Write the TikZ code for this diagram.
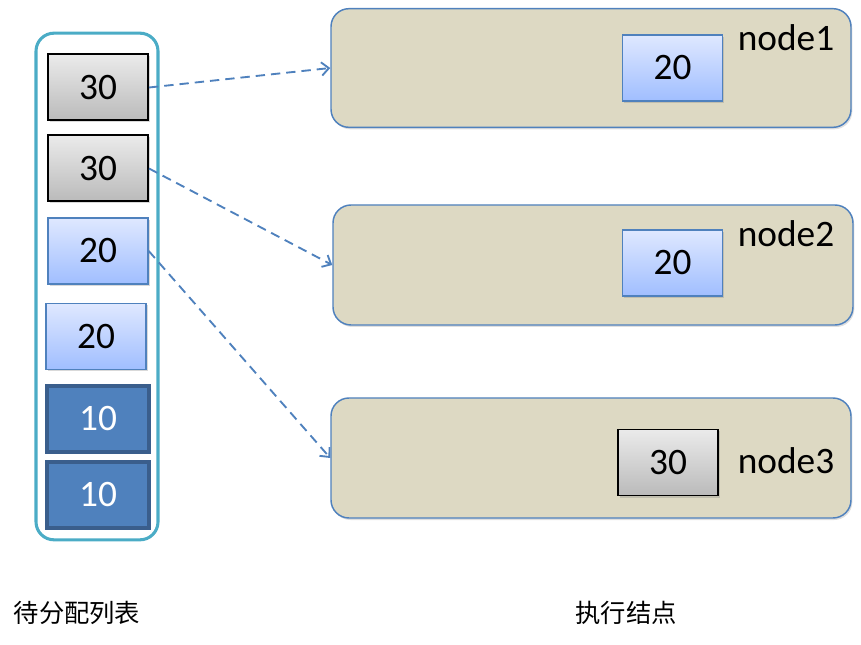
\documentclass[tikz,border=0pt]{standalone}
\usepackage{fontspec}
\setmainfont{Carlito}
\newfontfamily\cjk{Noto Sans CJK SC}
\usetikzlibrary{arrows.meta, shadows}
\definecolor{listcyan}{HTML}{4BACC6}
\definecolor{accent}{HTML}{4F81BD}
\definecolor{accentdark}{HTML}{3A5E8C}
\definecolor{khaki}{HTML}{DDD9C3}

\begin{document}
\begin{tikzpicture}[
  x=0.75pt, y=-0.75pt,
  task/.style={minimum width=75pt, minimum height=49.5pt, inner sep=0pt,
    font=\fontsize{28}{32}\selectfont,
    drop shadow={shadow xshift=1.2pt, shadow yshift=-1.5pt, opacity=0.3}},
  graytask/.style={task, draw=black, line width=1.5pt, top color=black!8, bottom color=black!27},
  bluetask/.style={task, draw=accent, line width=1.1pt, top color={rgb,255:red,223;green,232;blue,255}, bottom color={rgb,255:red,160;green,190;blue,255}},
  darktask/.style={task, draw=accentdark, line width=2.3pt, fill=accent, text=white, minimum width=76.5pt},
  worker/.style={draw=accent, line width=1.1pt, fill=khaki, rounded corners=13.5pt,
    minimum width=390pt, minimum height=89pt,
    drop shadow={shadow xshift=1pt, shadow yshift=-1.5pt, opacity=0.25}},
  wname/.style={font=\fontsize{28}{32}\selectfont},
  caption/.style={font=\cjk\fontsize{19}{23}\selectfont},
  arr/.style={-{Straight Barb[length=5.5pt, width=10pt]}, draw=accent, line width=1.4pt, dash pattern=on 7pt off 4.5pt}
]
\useasboundingbox (0,0) rectangle (861,645);

% Left: task list
\node[draw=listcyan, line width=2.3pt, rounded corners=13.5pt, minimum width=91.5pt, minimum height=380pt] (pool) at (97,286.5) {};
\node[graytask] (g1) at (98,87.5)  {30};
\node[graytask] (g2) at (98,168.5) {30};
\node[bluetask] (b1) at (98,251)   {20};
\node[bluetask] (b2) at (96,336.5) {20};
\node[darktask] (d1) at (98,419)   {10};
\node[darktask] (d2) at (98,495)   {10};

% Right: worker nodes
\node[worker] (exec1) at (591,68)  {};
\node[worker, minimum height=90pt] (exec2) at (593,265) {};
\node[worker, minimum height=90pt] (exec3) at (591,458) {};

\node[bluetask] (in1) at (672.5,68)  {20};
\node[bluetask] (in2) at (672.5,263) {20};
\node[graytask, line width=1.2pt] (in3) at (668,462.5) {30};

\node[wname] (n1) at (786,38)  {node1};
\node[wname] (n2) at (786,234) {node2};
\node[wname] (n3) at (786,461) {node3};

% Captions
\node[caption] (listcap) at (77,613)  {待分配列表};
\node[caption] (execcap) at (626,613) {执行结点};

% Arrows
\draw[arr] (g1.east) -- (exec1.west);
\draw[arr] (g2.east) -- (exec2.west);
\draw[arr] (b1.east) -- (exec3.west);

\end{tikzpicture}
\end{document}
